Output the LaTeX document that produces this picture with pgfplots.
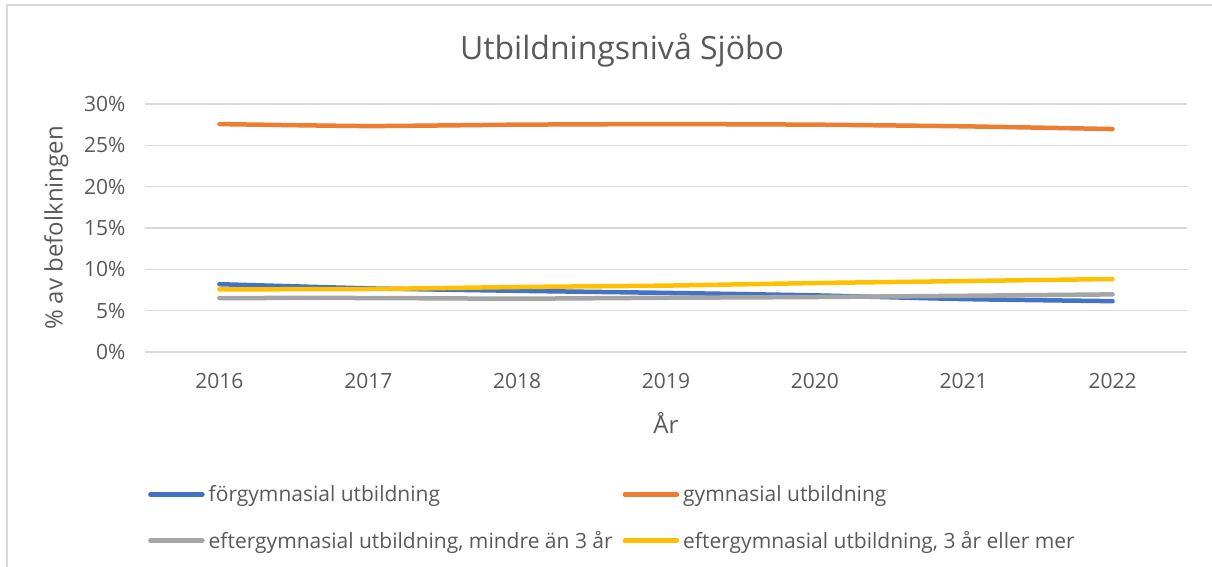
\documentclass[border=0pt]{standalone}
\usepackage{fontspec}
\setmainfont{Open Sans}
\usepackage{pgfplots}
\pgfplotsset{compat=1.18}
\definecolor{cBlue}{HTML}{4472C4}
\definecolor{cOrange}{HTML}{ED7D31}
\definecolor{cGray}{HTML}{A5A5A5}
\definecolor{cYellow}{HTML}{FFC000}
\definecolor{cGrid}{HTML}{D9D9D9}
\definecolor{cText}{HTML}{595959}
\definecolor{cFrame}{HTML}{D9D9D9}
\begin{document}
\begin{tikzpicture}[x=1pt,y=1pt]
\useasboundingbox (0,0) rectangle (1212,567);
\draw[cFrame, line width=1.5pt] (7,0) -- (7,562) -- (1212,562);
\node[text=cText, font=\fontsize{32}{38}\selectfont] at (622,517) {Utbildningsnivå Sjöbo};
\begin{axis}[
  at={(145pt,215pt)}, anchor=south west,
  scale only axis, width=1042pt, height=248pt,
  xmin=-0.5, xmax=6.5, ymin=0, ymax=30,
  xtick={0,1,2,3,4,5,6},
  xticklabels={2016,2017,2018,2019,2020,2021,2022},
  ytick={0,5,10,15,20,25,30},
  yticklabels={0\%,5\%,10\%,15\%,20\%,25\%,30\%},
  axis line style={draw=none},
  major tick length=0pt,
  ymajorgrids, grid style={cGrid, line width=1.5pt},
  ticklabel style={text=cText, font=\fontsize{21}{25}\selectfont},
  yticklabel style={xshift=-16pt},
  xticklabel style={yshift=-18pt},
  xlabel={År},
  ylabel={\% av befolkningen},
  label style={text=cText, font=\fontsize{24}{28}\selectfont},
  xlabel style={at={(axis description cs:0.5,-0.288)}, anchor=center},
  ylabel style={at={(axis description cs:-0.085,0.5)}, anchor=center, rotate=0},
  legend columns=2,
  legend cell align=left,
  legend style={draw=none, fill=none, at={(axis description cs:0.0,-0.522)}, anchor=north west,
    font=\fontsize{21}{25}\selectfont, text=cText, row sep=24pt,
    /tikz/every odd column/.append style={column sep=2pt},
    /tikz/every even column/.append style={column sep=8pt}},
  legend image code/.code={\draw[#1, line cap=round] (0pt,0pt) -- (52pt,0pt);},
  every axis plot/.append style={line width=4.5pt, line cap=round, line join=round, smooth, tension=0.3},
]
\addplot[cBlue] coordinates {(0,8.2) (1,7.7) (2,7.4) (3,7.15) (4,6.85) (5,6.4) (6,6.15)};
\addlegendentry{förgymnasial utbildning}
\addplot[cOrange] coordinates {(0,27.57) (1,27.33) (2,27.5) (3,27.57) (4,27.5) (5,27.3) (6,26.97)};
\addlegendentry{gymnasial utbildning}
\addplot[cGray] coordinates {(0,6.53) (1,6.53) (2,6.45) (3,6.56) (4,6.65) (5,6.8) (6,6.97)};
\addlegendentry{eftergymnasial utbildning, mindre än 3 år}
\addplot[cYellow] coordinates {(0,7.58) (1,7.62) (2,7.86) (3,8.03) (4,8.34) (5,8.58) (6,8.83)};
\addlegendentry{eftergymnasial utbildning, 3 år eller mer}
\end{axis}
\end{tikzpicture}
\end{document}
